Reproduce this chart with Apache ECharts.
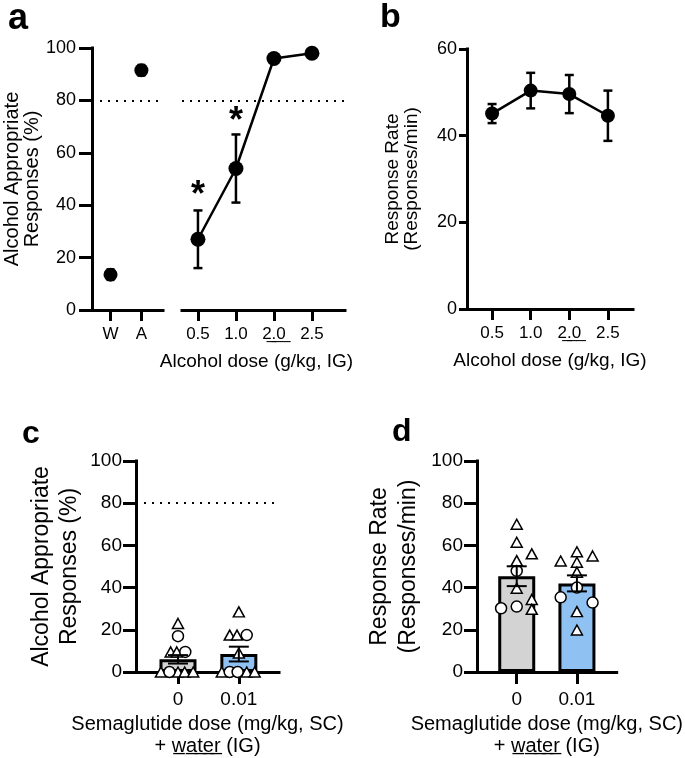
<!DOCTYPE html>
<html>
<head>
<meta charset="utf-8">
<style>
html, body { margin: 0; padding: 0; background: #fff; }
#main { width: 685px; height: 758px; }
</style>
<script src="https://cdn.jsdelivr.net/npm/echarts@6/dist/echarts.min.js"></script>
</head>
<body>
<div id="main"></div>
<script>
// panel a, left part: water / alcohol training
var trainLabels = ['W', 'A'];
var trainMean = [13.5, 91.5];
var trainSem = [2, 2];

// panel a + b: alcohol dose substitution
var doseLabels = ['0.5', '1.0', '2\u0332.\u03320\u0332', '2.5'];
var aMean = [27, 54, 96, 98];
var aSem = [11, 13, 1, 1];
var aStars = [47, 75]; // asterisks over 0.5 and 1.0
var bMean = [45.1, 50.4, 49.6, 44.6];
var bSem = [2.2, 4.1, 4.4, 5.8];

// panels c + d: semaglutide
var semaLabels = ['0', '0.01'];
var cMean = [6.0, 8.5];
var cSem = [2.0, 3.5];
var dMean = [45.4, 42.0];
var dSem = [4.7, 3.8];

// individual animals: [jitter, value], one list per dose
var cTri = [
  [[-0.28, 0], [0, 0], [0.11, 0], [0.25, 0], [-0.12, 9.5], [-0.02, 9.5], [0, 23]],
  [[-0.28, 0], [0.13, 0], [0.26, 0], [-0.15, 17.5], [-0.03, 17.5], [0, 9], [0, 28.5]]
];
var cCirc = [
  [[-0.14, 0], [0.12, 9.5], [0, 17]],
  [[-0.15, 0], [-0.02, 0], [0.13, 17.5]]
];
var dTri = [
  [[0, 70], [0, 61.5], [0.25, 56], [0, 52.8], [0, 39.7], [0.25, 34.4], [0.25, 29.7]],
  [[0, 57], [0, 52], [0, 47.3], [-0.27, 52.6], [0.26, 55], [0, 28.6], [0, 19.9]]
];
var dCirc = [
  [[0, 47.9], [-0.26, 30.2], [0, 31]],
  [[0, 40], [-0.27, 35.4], [0.26, 32.9]]
];

var FONT = '"Liberation Sans", Arial, sans-serif';
var barColors = ['#d3d3d3', '#90c1f3'];

function errData(mean, sem) {
  return mean.map(function (m, i) { return [i + 1, m - sem[i], m + sem[i]]; });
}
function ptData(list) {
  var out = [];
  list.forEach(function (g, i) {
    g.forEach(function (p) { out.push([i + 1 + p[0], p[1]]); });
  });
  return out;
}
function errRender(capHalf, lw) {
  return function (params, api) {
    var x = api.value(0);
    var pLo = api.coord([x, api.value(1)]);
    var pHi = api.coord([x, api.value(2)]);
    var st = { stroke: '#000', lineWidth: lw };
    return {
      type: 'group',
      children: [
        { type: 'line', shape: { x1: pLo[0], y1: pLo[1], x2: pHi[0], y2: pHi[1] }, style: st },
        { type: 'line', shape: { x1: pHi[0] - capHalf, y1: pHi[1], x2: pHi[0] + capHalf, y2: pHi[1] }, style: st },
        { type: 'line', shape: { x1: pLo[0] - capHalf, y1: pLo[1], x2: pLo[0] + capHalf, y2: pLo[1] }, style: st }
      ]
    };
  };
}
function errSeries(idx, mean, sem, capHalf, lw, z) {
  return {
    type: 'custom', xAxisIndex: idx, yAxisIndex: idx, z: z || 3,
    renderItem: errRender(capHalf, lw),
    encode: { x: 0, y: [1, 2] },
    data: errData(mean, sem)
  };
}
function xAxisCfg(idx, min, max, labels, o) {
  var ticks = labels.map(function (l, i) { return i + 1; });
  return {
    type: 'value', gridIndex: idx, min: min, max: max,
    axisLine: { show: true, onZero: false, lineStyle: { color: '#000', width: 3, cap: 'square' } },
    axisTick: { show: true, customValues: ticks, length: o.tick, lineStyle: { color: '#000', width: 3 } },
    axisLabel: {
      customValues: ticks, margin: o.margin, color: '#000', fontSize: o.fs, fontFamily: FONT,
      formatter: function (v) { return labels[Math.round(v) - 1]; }
    },
    splitLine: { show: false },
    name: o.name || '', nameLocation: 'middle', nameGap: o.nameGap,
    nameTextStyle: { color: '#000', fontSize: o.nameFs, fontFamily: FONT, lineHeight: o.nameLh, padding: o.namePad || 0 }
  };
}
function yAxisCfg(idx, max, o) {
  return {
    type: 'value', gridIndex: idx, min: 0, max: max, interval: 20, show: o.show !== false,
    axisLine: { show: true, onZero: false, lineStyle: { color: '#000', width: 3, cap: 'square' } },
    axisTick: { show: true, length: o.tick, lineStyle: { color: '#000', width: 3 } },
    axisLabel: { margin: o.margin, color: '#000', fontSize: o.fs, fontFamily: FONT },
    splitLine: { show: false },
    name: o.name || '', nameLocation: 'middle', nameGap: o.nameGap,
    nameTextStyle: { color: '#000', fontSize: o.nameFs, fontFamily: FONT, lineHeight: o.nameLh }
  };
}
var dotted = {
  silent: true, symbol: 'none', label: { show: false },
  lineStyle: { color: '#000', width: 2, type: [2, 6] },
  data: [{ yAxis: 80 }]
};
var openMark = { color: '#fff', borderColor: '#000', borderWidth: 1.5, opacity: 1 };

var myChart = echarts.init(document.getElementById('main'));
var option = {
  animation: false,
  title: [
    { text: 'a', left: 3, top: -4, textStyle: { fontSize: 36, fontWeight: 'bold', fontFamily: FONT, color: '#000' } },
    { text: 'b', left: 375, top: -4, textStyle: { fontSize: 34, fontWeight: 'bold', fontFamily: FONT, color: '#000' } },
    { text: 'c', left: 17, top: 413, textStyle: { fontSize: 32, fontWeight: 'bold', fontFamily: FONT, color: '#000' } },
    { text: 'd', left: 387, top: 411, textStyle: { fontSize: 32, fontWeight: 'bold', fontFamily: FONT, color: '#000' } }
  ],
  grid: [
    { left: 92, top: 48, width: 71, height: 262 },
    { left: 182, top: 48, width: 163, height: 262 },
    { left: 467, top: 49, width: 166, height: 260 },
    { left: 136, top: 461, width: 143, height: 211 },
    { left: 477, top: 461, width: 141, height: 211 }
  ],
  xAxis: [
    xAxisCfg(0, 0.4, 2.7, trainLabels, { tick: 11, margin: 16, fs: 17 }),
    xAxisCfg(1, 0.58, 4.87, doseLabels, { tick: 11, margin: 16, fs: 17,
      name: 'Alcohol dose (g/kg, IG)', nameGap: 42, nameFs: 19, namePad: [0, 14, 0, 0] }),
    xAxisCfg(2, 0.35, 4.65, doseLabels, { tick: 11, margin: 16, fs: 17,
      name: 'Alcohol dose (g/kg, IG)', nameGap: 42, nameFs: 19 }),
    xAxisCfg(3, 0.31, 2.66, semaLabels, { tick: 12, margin: 18, fs: 19,
      name: 'Semaglutide dose (mg/kg, SC)\n+ w\u0332a\u0332t\u0332e\u0332r\u0332 (IG)', nameGap: 41, nameFs: 20, nameLh: 22 }),
    xAxisCfg(4, 0.34, 2.66, semaLabels, { tick: 12, margin: 18, fs: 19,
      name: 'Semaglutide dose (mg/kg, SC)\n+ w\u0332a\u0332t\u0332e\u0332r\u0332 (IG)', nameGap: 41, nameFs: 20, nameLh: 22 })
  ],
  yAxis: [
    yAxisCfg(0, 100, { tick: 13, margin: 16, fs: 18,
      name: 'Alcohol Appropriate\nResponses (%)', nameGap: 44, nameFs: 20, nameLh: 20 }),
    yAxisCfg(1, 100, { show: false, tick: 0, margin: 0, fs: 17 }),
    yAxisCfg(2, 60, { tick: 8, margin: 10, fs: 18,
      name: 'Response Rate\n(Responses/min)', nameGap: 46, nameFs: 19, nameLh: 19 }),
    yAxisCfg(3, 100, { tick: 13, margin: 14, fs: 19,
      name: 'Alcohol Appropriate\nResponses (%)', nameGap: 52, nameFs: 23, nameLh: 28 }),
    yAxisCfg(4, 100, { tick: 13, margin: 14, fs: 19,
      name: 'Response Rate\n(Responses/min)', nameGap: 54, nameFs: 23, nameLh: 29 })
  ],
  series: [
    // a, training
    errSeries(0, trainMean, trainSem, 4, 2.5),
    {
      type: 'scatter', xAxisIndex: 0, yAxisIndex: 0, symbol: 'circle', symbolSize: 14, z: 4,
      itemStyle: { color: '#000', opacity: 1 },
      data: trainMean.map(function (m, i) { return [i + 1, m]; }),
      markLine: dotted
    },
    // a, dose curve
    errSeries(1, aMean, aSem, 4.5, 2.5),
    {
      type: 'line', xAxisIndex: 1, yAxisIndex: 1, symbol: 'circle', symbolSize: 15, z: 4,
      itemStyle: { color: '#000', opacity: 1 }, lineStyle: { color: '#000', width: 2.5 },
      data: aMean.map(function (m, i) { return [i + 1, m]; }),
      markLine: dotted
    },
    {
      type: 'scatter', xAxisIndex: 1, yAxisIndex: 1, symbolSize: 0, z: 5,
      itemStyle: { opacity: 1 },
      label: { show: true, position: 'inside', formatter: '*', offset: [0, 9],
        fontSize: 36, fontWeight: 'bold', fontFamily: FONT, color: '#000' },
      data: aStars.map(function (v, i) { return [i + 1, v]; })
    },
    // b
    errSeries(2, bMean, bSem, 4.5, 2.5),
    {
      type: 'line', xAxisIndex: 2, yAxisIndex: 2, symbol: 'circle', symbolSize: 14, z: 4,
      itemStyle: { color: '#000', opacity: 1 }, lineStyle: { color: '#000', width: 2.5 },
      data: bMean.map(function (m, i) { return [i + 1, m]; })
    },
    // c
    {
      type: 'bar', xAxisIndex: 3, yAxisIndex: 3, barWidth: 37, z: 2,
      itemStyle: { borderColor: '#000', borderWidth: 3 },
      data: cMean.map(function (m, i) { return { value: [i + 1, m], itemStyle: { color: barColors[i] } }; }),
      markLine: dotted
    },
    {
      type: 'scatter', xAxisIndex: 3, yAxisIndex: 3, symbol: 'triangle', symbolSize: [11, 10], z: 4,
      itemStyle: openMark, data: ptData(cTri)
    },
    {
      type: 'scatter', xAxisIndex: 3, yAxisIndex: 3, symbol: 'circle', symbolSize: 11, z: 4,
      itemStyle: openMark, data: ptData(cCirc)
    },
    errSeries(3, cMean, cSem, 10, 2, 5),
    // d
    {
      type: 'bar', xAxisIndex: 4, yAxisIndex: 4, barWidth: 37, z: 2,
      itemStyle: { borderColor: '#000', borderWidth: 3 },
      data: dMean.map(function (m, i) { return { value: [i + 1, m], itemStyle: { color: barColors[i] } }; })
    },
    {
      type: 'scatter', xAxisIndex: 4, yAxisIndex: 4, symbol: 'triangle', symbolSize: [11, 10], z: 4,
      itemStyle: openMark, data: ptData(dTri)
    },
    {
      type: 'scatter', xAxisIndex: 4, yAxisIndex: 4, symbol: 'circle', symbolSize: 11, z: 4,
      itemStyle: openMark, data: ptData(dCirc)
    },
    errSeries(4, dMean, dSem, 10, 2, 5)
  ]
};
myChart.setOption(option);
</script>
</body>
</html>
